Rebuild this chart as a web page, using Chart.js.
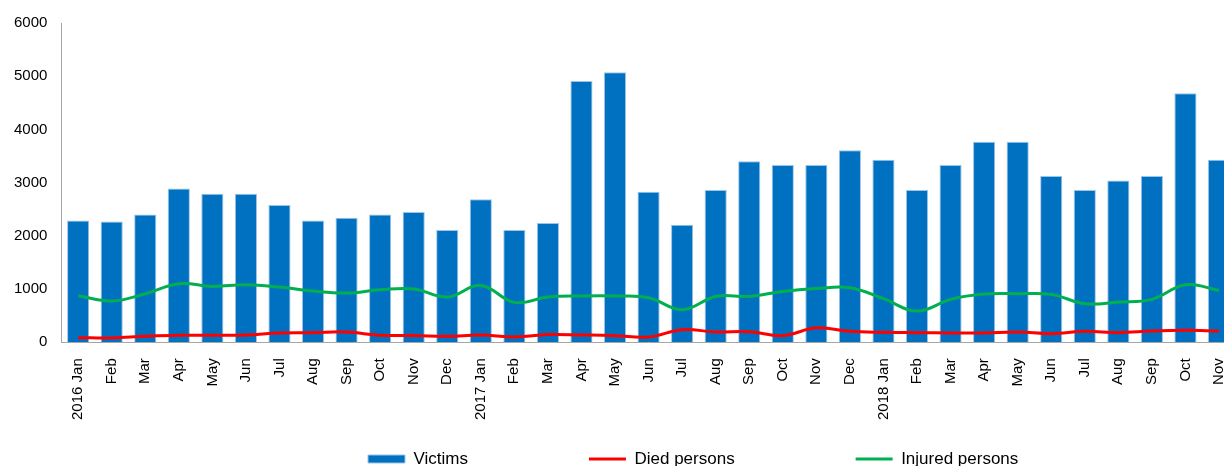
<!DOCTYPE html>
<html>
<head>
<meta charset="utf-8">
<script src="https://cdn.jsdelivr.net/npm/chart.js@4/dist/chart.umd.min.js"></script>
<style>
  html, body { margin: 0; padding: 0; background: #fff; overflow: hidden; }
  #wrap { width: 1253px; height: 476px; }
</style>
</head>
<body>
<div id="wrap"><canvas id="grafik" width="1253" height="476"></canvas></div>
<script>
// Data (per bulan, 2016 Jan - 2018 Nov)
const bulan = [
  '2016 Jan', 'Feb', 'Mar', 'Apr', 'May', 'Jun', 'Jul', 'Aug', 'Sep', 'Oct', 'Nov', 'Dec',
  '2017 Jan', 'Feb', 'Mar', 'Apr', 'May', 'Jun', 'Jul', 'Aug', 'Sep', 'Oct', 'Nov', 'Dec',
  '2018 Jan', 'Feb', 'Mar', 'Apr', 'May', 'Jun', 'Jul', 'Aug', 'Sep', 'Oct', 'Nov'
];
const victims = [
  2290, 2270, 2400, 2890, 2790, 2790, 2580, 2290, 2340, 2400, 2450, 2110,
  2690, 2110, 2240, 4910, 5075, 2830, 2210, 2860, 3400, 3330, 3330, 3610,
  3430, 2860, 3330, 3770, 3770, 3125, 2860, 3040, 3125, 4680, 3430
];
const diedPersons = [
  87, 81, 112, 131, 131, 137, 175, 181, 194, 131, 128, 112,
  137, 100, 144, 137, 125, 100, 237, 194, 200, 125, 272, 206,
  187, 181, 175, 175, 194, 162, 206, 181, 212, 225, 212
];
const injuredPersons = [
  875, 775, 912, 1100, 1050, 1081, 1037, 962, 925, 987, 1003, 850,
  1069, 750, 850, 869, 869, 838, 613, 862, 862, 956, 1009, 1025,
  819, 587, 806, 906, 912, 900, 725, 756, 806, 1081, 975
];
const yTicks = [0, 1000, 2000, 3000, 4000, 5000, 6000];

// posisi legenda (legenda asli tidak di tengah)
const LEGEND_LEFT = 368;
const LEGEND_Y = 459;

const geserLegenda = {
  id: 'geserLegenda',
  afterLayout(chart) {
    const lg = chart.legend;
    if (!lg || !lg.lineWidths) return;
    const p = lg.options.labels.padding;
    const start = (lg.left + p + lg.right - lg.lineWidths[0]) / 2;
    const dx = LEGEND_LEFT - start;
    lg.left += dx;
    lg.right += dx;
    const fs = lg.options.labels.font.size;
    lg.top = LEGEND_Y - p - fs / 2;
  }
};

Chart.defaults.font.family = '"Liberation Sans", Arial, sans-serif';
Chart.defaults.color = '#000';

const ctx = document.getElementById('grafik').getContext('2d');
window.grafik = new Chart(ctx, {
  type: 'bar',
  data: {
    labels: bulan,
    datasets: [{
      label: 'Victims',
      data: victims,
      backgroundColor: '#0070c0',
      borderColor: '#9dc3e6',
      borderWidth: 1,
      barPercentage: 0.66,
      categoryPercentage: 1,
      pointStyle: 'rect',
      order: 2
    }, {
      type: 'line',
      label: 'Died persons',
      data: diedPersons,
      borderColor: '#ff0000',
      backgroundColor: '#ff0000',
      borderWidth: 3,
      pointRadius: 0,
      tension: 0.4,
      pointStyle: 'line',
      order: 0
    }, {
      type: 'line',
      label: 'Injured persons',
      data: injuredPersons,
      borderColor: '#00b050',
      backgroundColor: '#00b050',
      borderWidth: 3,
      pointRadius: 0,
      tension: 0.4,
      pointStyle: 'line',
      order: 1
    }]
  },
  options: {
    responsive: false,
    animation: false,
    layout: { padding: { top: 10, left: 0, right: 0, bottom: 0 } },
    plugins: {
      tooltip: { enabled: false },
      legend: {
        display: true,
        position: 'bottom',
        maxHeight: 40,
        labels: {
          usePointStyle: true,
          pointStyleWidth: 37,
          boxHeight: 8,
          padding: 121,
          font: { size: 17 },
          color: '#000',
          sort: (a, b) => a.datasetIndex - b.datasetIndex
        }
      }
    },
    scales: {
      x: {
        grid: { display: false, drawTicks: false },
        border: { display: true, color: '#a6a6a6', width: 1 },
        ticks: {
          autoSkip: false,
          maxRotation: 90,
          minRotation: 90,
          padding: 16,
          font: { size: 15 }
        }
      },
      y: {
        min: 0,
        max: 6000,
        afterBuildTicks: (scale) => { scale.ticks = yTicks.map(v => ({ value: v })); },
        grid: { display: false, drawTicks: false },
        border: { display: true, color: '#a6a6a6', width: 1 },
        ticks: {
          padding: 14,
          font: { size: 15 },
          callback: (v) => String(v)
        }
      }
    }
  },
  plugins: [geserLegenda]
});
</script>
</body>
</html>
